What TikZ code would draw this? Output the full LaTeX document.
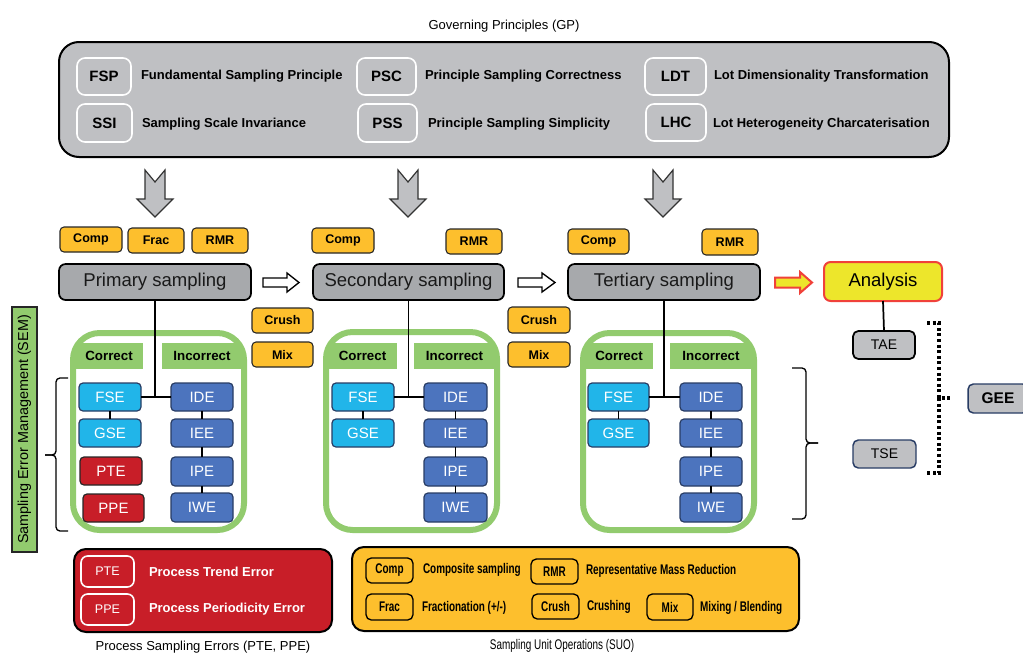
\documentclass[tikz,border=0pt]{standalone}
\usepackage{fontspec}
\setmainfont{Liberation Sans}
\newfontfamily\narrowfont[FakeStretch=0.71]{Liberation Sans}
\definecolor{gpgray}{RGB}{191,192,195}
\definecolor{stagegray}{RGB}{167,169,172}
\definecolor{orng}{RGB}{253,191,45}
\definecolor{grn}{RGB}{146,203,110}
\definecolor{lblue}{RGB}{33,181,233}
\definecolor{dblue}{RGB}{76,116,190}
\definecolor{rd}{RGB}{200,30,40}
\definecolor{ylw}{RGB}{237,230,43}
\definecolor{arred}{RGB}{240,65,58}
\definecolor{navy}{RGB}{40,60,100}
\newcommand\mybox[7]{\node[#6, minimum width={(#4-#2)*0.75pt}, minimum height={(#5-#3)*0.75pt}] (#1) at ({(#2+#4)/2},{(#3+#5)/2}) {#7};}
\begin{document}
\begin{tikzpicture}[x=0.75pt,y=-0.75pt,
 base/.style={inner sep=0pt, outer sep=0pt, align=center},
 gpbig/.style={draw=black, line width=1.5pt, fill=gpgray, rounded corners=15pt},
 abbr/.style={base, draw=white, line width=1.2pt, fill=gpgray, rounded corners=6pt, font=\fontsize{11.25}{13}\selectfont\bfseries},
 gplabel/.style={base, anchor=west, font=\fontsize{9.75}{12}\selectfont\bfseries},
 stagebox/.style={base, draw=black, line width=1.3pt, fill=stagegray, rounded corners=5pt, font=\fontsize{13.9}{16}\selectfont, text=black!90},
 opbox/.style={base, draw=black!85, line width=0.8pt, fill=orng, rounded corners=3pt, font=\fontsize{9.4}{11}\selectfont\bfseries},
 framebox/.style={draw=grn, line width=4.5pt, rounded corners=20pt},
 tabbox/.style={base, fill=grn, font=\fontsize{10}{12}\selectfont\bfseries},
 errbox/.style={base, draw=navy, line width=0.9pt, rounded corners=3pt, text=white, font=\fontsize{11.25}{13}\selectfont},
 errC/.style={errbox, fill=lblue},
 errI/.style={errbox, fill=dblue},
 errP/.style={errbox, fill=rd, draw=black!85},
 link/.style={line width=0.8pt},
 stem/.style={line width=1.3pt},
 blockarrow/.style={fill=gpgray, draw=black!80, line width=0.9pt},
 hollowarrow/.style={fill=white, draw=black, line width=1pt},
 brace/.style={line width=1pt, rounded corners=3pt},
 dotline/.style={line width=2.4pt, dash pattern=on 2.2pt off 2pt},
 smallgray/.style={base, fill=gpgray, rounded corners=4pt, font=\fontsize{10.5}{12}\selectfont},
 caption/.style={base, font=\fontsize{9.75}{12}\selectfont},
 suobox/.style={base, draw=black, line width=1pt, fill=orng, rounded corners=4pt, font=\fontsize{10.5}{12}\narrowfont\bfseries},
 suolabel/.style={base, anchor=west, font=\fontsize{10.5}{12}\narrowfont\bfseries},
 pselabel/.style={base, anchor=west, text=white, font=\fontsize{9.75}{12}\selectfont\bfseries},
 psebox/.style={base, draw=white, line width=1.2pt, fill=rd, rounded corners=5pt, text=white, font=\fontsize{9.4}{11}\selectfont}
]
\useasboundingbox (0,0) rectangle (1023,653);

% ---------- Governing principles ----------
\node[caption] (gptitle) at (504,26) {Governing Principles (GP)};
\draw[gpbig] (59,42) rectangle (949,157);
\mybox{fsp}{77}{58}{131}{95}{abbr}{FSP}
\mybox{ssi}{77}{104}{132}{142}{abbr}{SSI}
\mybox{psc}{357}{58}{416}{95}{abbr}{PSC}
\mybox{pss}{358}{104}{417}{142}{abbr}{PSS}
\mybox{ldt}{645}{58}{706}{95}{abbr}{LDT}
\mybox{lhc}{646}{104}{706}{141}{abbr}{LHC}
\node[gplabel] (fspl) at (141,76) {Fundamental Sampling Principle};
\node[gplabel] (ssil) at (142,124) {Sampling Scale Invariance};
\node[gplabel] (pscl) at (425,76) {Principle Sampling Correctness};
\node[gplabel] (pssl) at (428,124) {Principle Sampling Simplicity};
\node[gplabel] (ldtl) at (714,76) {Lot Dimensionality Transformation};
\node[gplabel] (lhcl) at (713,124) {Lot Heterogeneity Charcaterisation};

% ---------- block arrows ----------
\foreach \cx in {155,408,663}{
  \draw[blockarrow] (\cx-10,170) -- (\cx,182) -- (\cx+10,170) -- (\cx+10,199) -- (\cx+18,199) -- (\cx,217) -- (\cx-18,199) -- (\cx-10,199) -- cycle;
}

% ---------- operations above stages ----------
\mybox{pcomp}{60}{227}{122}{252}{opbox}{Comp}
\mybox{pfrac}{128}{228}{184}{253}{opbox}{Frac}
\mybox{prmr}{192}{228}{248}{253}{opbox}{RMR}
\mybox{scomp}{312}{228}{374}{253}{opbox}{Comp}
\mybox{srmr}{446}{229}{502}{254}{opbox}{RMR}
\mybox{tcomp}{568}{229}{629}{254}{opbox}{Comp}
\mybox{trmr}{702}{229}{758}{255}{opbox}{RMR}
\mybox{crush1}{252}{308}{313}{333}{opbox}{Crush}
\mybox{mix1}{252}{342}{313}{367}{opbox}{Mix}
\mybox{crush2}{508}{307}{570}{333}{opbox}{Crush}
\mybox{mix2}{508}{342}{570}{367}{opbox}{Mix}

% ---------- stages ----------
\mybox{prim}{59}{264}{251}{300}{stagebox}{Primary sampling}
\mybox{sec}{313}{264}{504}{300}{stagebox}{Secondary sampling}
\mybox{ter}{568}{264}{760}{300}{stagebox}{Tertiary sampling}
\mybox{ana}{824}{262}{942}{301}{base, draw=arred, line width=1.5pt, fill=ylw, rounded corners=5pt, font=\fontsize{13.9}{16}\selectfont}{Analysis}

\draw[hollowarrow] (263,278) -- (287,278) -- (287,273) -- (299,282.5) -- (287,292) -- (287,287) -- (263,287) -- cycle;
\draw[hollowarrow] (518,278) -- (542,278) -- (542,273) -- (555,282.5) -- (542,292) -- (542,287) -- (518,287) -- cycle;
\draw[fill=ylw, draw=arred, line width=1.5pt] (775,277.5) -- (800,277.5) -- (800,272) -- (812,282.5) -- (800,293) -- (800,287.5) -- (775,287.5) -- cycle;

% ---------- green frames ----------
\draw[framebox] (73,333) rectangle (244,530);
\draw[framebox] (326,332) rectangle (497,530);
\draw[framebox] (583,333) rectangle (754,530);
\mybox{pcor}{75}{343}{143}{369}{tabbox}{Correct}
\mybox{pinc}{162}{343}{242}{369}{tabbox}{Incorrect}
\mybox{scor}{328}{343}{397}{369}{tabbox}{Correct}
\mybox{sinc}{414}{343}{495}{369}{tabbox}{Incorrect}
\mybox{tcor}{585}{343}{653}{369}{tabbox}{Correct}
\mybox{tinc}{670}{343}{752}{369}{tabbox}{Incorrect}

% ---------- error boxes ----------
\mybox{pfse}{79}{383}{141}{411}{errC}{FSE}
\mybox{pgse}{79}{419}{141}{447}{errC}{GSE}
\mybox{ppte}{80}{457}{142}{485}{errP}{PTE}
\mybox{pppe}{83}{494}{144}{522}{errP}{PPE}
\mybox{pide}{171}{383}{233}{411}{errI}{IDE}
\mybox{piee}{171}{419}{233}{447}{errI}{IEE}
\mybox{pipe}{171}{457}{233}{486}{errI}{IPE}
\mybox{piwe}{171}{493}{233}{522}{errI}{IWE}

\mybox{sfse}{332}{383}{394}{411}{errC}{FSE}
\mybox{sgse}{332}{419}{394}{447}{errC}{GSE}
\mybox{side}{424}{383}{487}{411}{errI}{IDE}
\mybox{siee}{424}{419}{487}{447}{errI}{IEE}
\mybox{sipe}{424}{457}{487}{486}{errI}{IPE}
\mybox{siwe}{424}{493}{487}{522}{errI}{IWE}

\mybox{tfse}{588}{383}{649}{411}{errC}{FSE}
\mybox{tgse}{588}{419}{649}{447}{errC}{GSE}
\mybox{tide}{680}{383}{742}{411}{errI}{IDE}
\mybox{tiee}{680}{419}{742}{447}{errI}{IEE}
\mybox{tipe}{680}{457}{742}{486}{errI}{IPE}
\mybox{tiwe}{680}{493}{742}{522}{errI}{IWE}

% ---------- connectors ----------
\draw[stem] (prim.south) -- (prim.south |- pfse.east);
\draw[stem] (pfse.east) -- (pide.west);
\draw[link] (pfse) -- (pgse);
\draw[link] (pide) -- (piee);
\draw[link] (piee) -- (pipe);
\draw[link] (pipe) -- (piwe);

\draw[stem] (sec.south) -- (sec.south |- sfse.east);
\draw[stem] (sfse.east) -- (side.west);
\draw[link] (sfse) -- (sgse);
\draw[link] (side) -- (siee);
\draw[link] (siee) -- (sipe);
\draw[link] (sipe) -- (siwe);

\draw[stem] (ter.south) -- (ter.south |- tfse.east);
\draw[stem] (tfse.east) -- (tide.west);
\draw[link] (tfse) -- (tgse);
\draw[link] (tide) -- (tiee);
\draw[link] (tiee) -- (tipe);
\draw[link] (tipe) -- (tiwe);

% ---------- SEM label and braces ----------
\node[base, rotate=90, draw=black!85, line width=0.8pt, fill=grn, minimum width={245*0.75pt}, minimum height={25*0.75pt}, font=\fontsize{10.8}{12}\selectfont] (sem) at (24.5,429.5) {Sampling Error Management (SEM)};
\draw[brace] (68,378) -- (56,378) -- (56,455) -- (45,455);
\draw[brace] (45,455) -- (56,455) -- (56,531) -- (68,531);
\draw[brace] (792,368) -- (806,368) -- (806,443) -- (818,443);
\draw[brace] (818,443) -- (806,443) -- (806,519) -- (792,519);

% ---------- analysis side ----------
\mybox{tae}{853}{331}{915}{359}{smallgray, draw=black, line width=1.3pt}{TAE}
\mybox{tse}{853}{440}{916}{468}{smallgray, draw=navy, line width=1.1pt}{TSE}
\draw[stem] (ana.south) -- (tae.north);
\draw[dotline] (927,323) -- (939,323) -- (939,398) -- (952,398);
\draw[dotline] (939,398) -- (939,473) -- (927,473);
\begin{scope}
\clip (0,0) rectangle (1023,653);
\mybox{gee}{968}{384}{1028}{413}{smallgray, draw=navy, line width=1.1pt, font=\fontsize{11.6}{13}\selectfont\bfseries}{GEE}
\end{scope}

% ---------- Process sampling errors ----------
\draw[draw=black, line width=1.5pt, fill=rd, rounded corners=9pt] (74,549) rectangle (332,632);
\mybox{bpte}{81}{556}{134}{587}{psebox}{PTE}
\mybox{bppe}{81}{594}{134}{625}{psebox}{PPE}
\node[pselabel] (bptel) at (149,572) {Process Trend Error};
\node[pselabel] (bppel) at (149,609) {Process Periodicity Error};
\node[caption] (psecap) at (203,647) {Process Sampling Errors (PTE, PPE)};

% ---------- Sampling unit operations ----------
\draw[draw=black, line width=1.5pt, fill=orng, rounded corners=9pt] (352,547) rectangle (799,631);
\mybox{ucomp}{366}{558}{413}{583}{suobox}{Comp}
\mybox{ufrac}{366}{594}{413}{620}{suobox}{Frac}
\mybox{urmr}{531}{559}{578}{584}{suobox}{RMR}
\mybox{ucrush}{532}{594}{579}{619}{suobox}{Crush}
\mybox{umix}{647}{594}{693}{620}{suobox}{Mix}
\node[suolabel] (ucompl) at (423,570) {Composite sampling};
\node[suolabel] (ufracl) at (422,608) {Fractionation (+/-)};
\node[suolabel] (urmrl) at (586,571) {Representative Mass Reduction};
\node[suolabel] (ucrushl) at (587,607) {Crushing};
\node[suolabel] (umixl) at (700,608) {Mixing / Blending};
\node[base, font=\fontsize{10.5}{12}\narrowfont] (suocap) at (562,646) {Sampling Unit Operations (SUO)};
\end{tikzpicture}
\end{document}
